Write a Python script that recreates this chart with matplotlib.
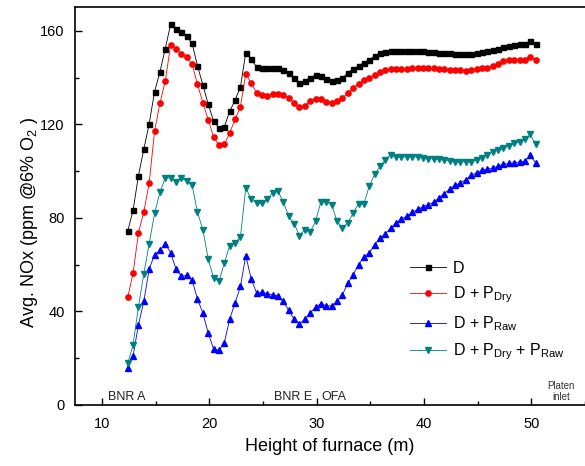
import numpy as np
import matplotlib
matplotlib.use('Agg')
import matplotlib.pyplot as plt
from matplotlib.ticker import MultipleLocator

plt.rcParams['font.family'] = ['Liberation Sans', 'DejaVu Sans']
plt.rcParams['mathtext.fontset'] = 'custom'
plt.rcParams['mathtext.rm'] = 'Liberation Sans'
plt.rcParams['mathtext.it'] = 'Liberation Sans:italic'

# furnace height (m), sampled every 0.5 m
height = [12.4, 12.9, 13.4, 13.9, 14.4, 14.9, 15.4, 15.9, 16.4, 16.9,
          17.4, 17.9, 18.4, 18.9, 19.4, 19.9, 20.4, 20.9, 21.4, 21.9,
          22.4, 22.9, 23.4, 23.9, 24.4, 24.9, 25.4, 25.9, 26.4, 26.9,
          27.4, 27.9, 28.4, 28.9, 29.4, 29.9, 30.4, 30.9, 31.4, 31.9,
          32.4, 32.9, 33.4, 33.9, 34.4, 34.9, 35.4, 35.9, 36.4, 36.9,
          37.4, 37.9, 38.4, 38.9, 39.4, 39.9, 40.4, 40.9, 41.4, 41.9,
          42.4, 42.9, 43.4, 43.9, 44.4, 44.9, 45.4, 45.9, 46.4, 46.9,
          47.4, 47.9, 48.4, 48.9, 49.4, 49.9, 50.4]

nox_d = [74.3, 83.3, 98.1, 109.3, 120.3, 134.0, 142.4, 152.4, 162.9, 161.0,
         159.6, 157.6, 154.6, 145.0, 136.9, 128.6, 121.4, 118.4, 119.0, 125.6,
         130.3, 136.0, 150.7, 147.9, 144.6, 144.1, 143.9, 144.3, 144.0, 143.3,
         142.0, 140.0, 137.9, 138.6, 140.0, 141.0, 140.6, 139.2, 138.6, 138.9,
         139.7, 142.1, 143.6, 145.0, 146.4, 147.6, 149.3, 150.4, 151.1, 151.3,
         151.3, 151.3, 151.3, 151.3, 151.3, 151.2, 151.0, 151.0, 150.7, 150.6,
         150.4, 150.1, 150.1, 149.9, 150.1, 150.4, 151.0, 151.3, 151.6, 152.2,
         153.0, 153.6, 153.9, 154.2, 154.5, 155.7, 154.2]

nox_dry = [46.0, 56.4, 73.6, 82.6, 95.0, 117.1, 129.0, 138.6, 153.9, 152.1,
           150.3, 148.6, 145.7, 137.1, 129.3, 121.9, 114.7, 111.0, 111.4, 116.4,
           122.1, 127.6, 141.7, 137.6, 133.6, 132.7, 132.1, 132.9, 132.9, 132.7,
           131.4, 129.3, 127.3, 127.9, 130.0, 131.0, 130.7, 129.6, 129.3, 130.0,
           131.4, 133.3, 135.4, 137.4, 138.9, 139.7, 141.0, 142.4, 143.2, 143.6,
           143.6, 143.7, 143.7, 143.9, 143.9, 143.9, 143.9, 143.9, 143.6, 143.6,
           143.4, 143.2, 143.2, 143.0, 143.2, 143.6, 143.9, 144.2, 145.1, 145.8,
           147.0, 147.4, 147.4, 147.4, 147.4, 148.7, 147.6]

nox_raw = [15.7, 21.0, 34.3, 44.3, 58.1, 64.3, 66.1, 69.0, 65.0, 58.1,
           55.0, 55.4, 53.3, 45.3, 39.3, 30.7, 23.9, 23.3, 26.7, 36.7,
           43.6, 50.7, 63.9, 53.9, 47.9, 48.1, 47.6, 47.1, 46.7, 44.3,
           40.4, 36.7, 34.7, 36.7, 39.3, 41.9, 43.3, 42.4, 42.4, 44.3,
           47.1, 52.1, 55.7, 60.0, 63.3, 65.0, 68.6, 71.4, 73.1, 75.7,
           77.9, 79.6, 80.7, 82.4, 83.6, 84.7, 85.7, 86.7, 88.6, 90.4,
           92.4, 93.9, 95.0, 96.4, 98.2, 99.3, 100.4, 100.7, 101.4, 102.1,
           102.9, 103.3, 103.6, 104.0, 104.2, 106.7, 103.6]

nox_dry_raw = [17.9, 25.7, 42.1, 56.1, 69.0, 81.9, 91.0, 97.1, 97.1, 95.4,
               97.1, 95.7, 94.0, 82.4, 75.0, 62.4, 54.3, 52.9, 60.7, 68.1,
               69.3, 71.9, 92.9, 87.9, 86.4, 86.2, 87.9, 90.7, 91.4, 86.7,
               80.7, 77.6, 72.4, 75.0, 73.9, 78.6, 87.0, 86.7, 85.7, 78.6,
               75.7, 77.9, 82.1, 86.0, 86.0, 93.6, 98.6, 102.1, 104.7, 107.1,
               106.1, 106.1, 106.1, 106.1, 106.1, 105.7, 105.3, 105.3, 105.0, 104.7,
               104.3, 104.1, 104.0, 104.0, 104.1, 104.6, 105.7, 107.1, 108.1, 109.0,
               109.7, 110.7, 111.9, 112.4, 113.6, 115.7, 111.4]

labels = ['D', r'D + P$_\mathregular{Dry}$', r'D + P$_\mathregular{Raw}$',
          r'D + P$_\mathregular{Dry}$ + P$_\mathregular{Raw}$']
zone_labels = ['BNR A', 'BNR E', 'OFA']
zone_x = [10.6, 26.0, 30.4]

fig = plt.figure(figsize=(5.85, 4.66), dpi=100)
ax = fig.add_axes([0.1275, 0.131, 0.8725, 0.853])

ax.plot(height, nox_d, color='black', marker='s', ms=3.6, lw=0.6, label=labels[0])
ax.plot(height, nox_dry, color='red', marker='o', ms=3.8, lw=0.6, label=labels[1])
ax.plot(height, nox_raw, color='blue', marker='^', ms=4.4, lw=0.6, label=labels[2])
ax.plot(height, nox_dry_raw, color='#008080', marker='v', ms=4.4, lw=0.6, label=labels[3])

ax.set_xlim(7.45, 55)
ax.set_ylim(0, 170)
ax.xaxis.set_major_locator(MultipleLocator(10))
ax.xaxis.set_minor_locator(MultipleLocator(5))
ax.yaxis.set_major_locator(MultipleLocator(40))
ax.yaxis.set_minor_locator(MultipleLocator(20))
ax.tick_params(which='both', direction='in', labelsize=10.5, pad=7, width=1)
ax.tick_params(axis='x', pad=9)
ax.tick_params(which='major', length=5)
ax.tick_params(which='minor', length=3)
ax.spines['right'].set_visible(False)
for s in ['left', 'bottom', 'top']:
    ax.spines[s].set_linewidth(1.2)

ax.set_xlabel('Height of furnace (m)', fontsize=13, labelpad=5)
ax.set_ylabel(r'Avg. NOx (ppm @6% O$_\mathregular{2}$ )', fontsize=13)
ax.yaxis.set_label_coords(-0.068, 0.46)

for name, xz in zip(zone_labels, zone_x):
    ax.text(xz, 0.7, name, fontsize=9, ha='left', va='bottom', color='#222222')
ax.text(52.8, 1.2, 'Platen\ninlet', fontsize=7, ha='center', va='bottom',
        color='#333333', linespacing=1.1)

ax.legend(loc='upper left', bbox_to_anchor=(0.70, 0.44), bbox_transform=fig.transFigure,
          frameon=False, fontsize=11.5, handlelength=2.3, handletextpad=0.4,
          labelspacing=0.55, borderpad=0, borderaxespad=0, markerscale=1.0)

fig.savefig('out.png', dpi=100)
